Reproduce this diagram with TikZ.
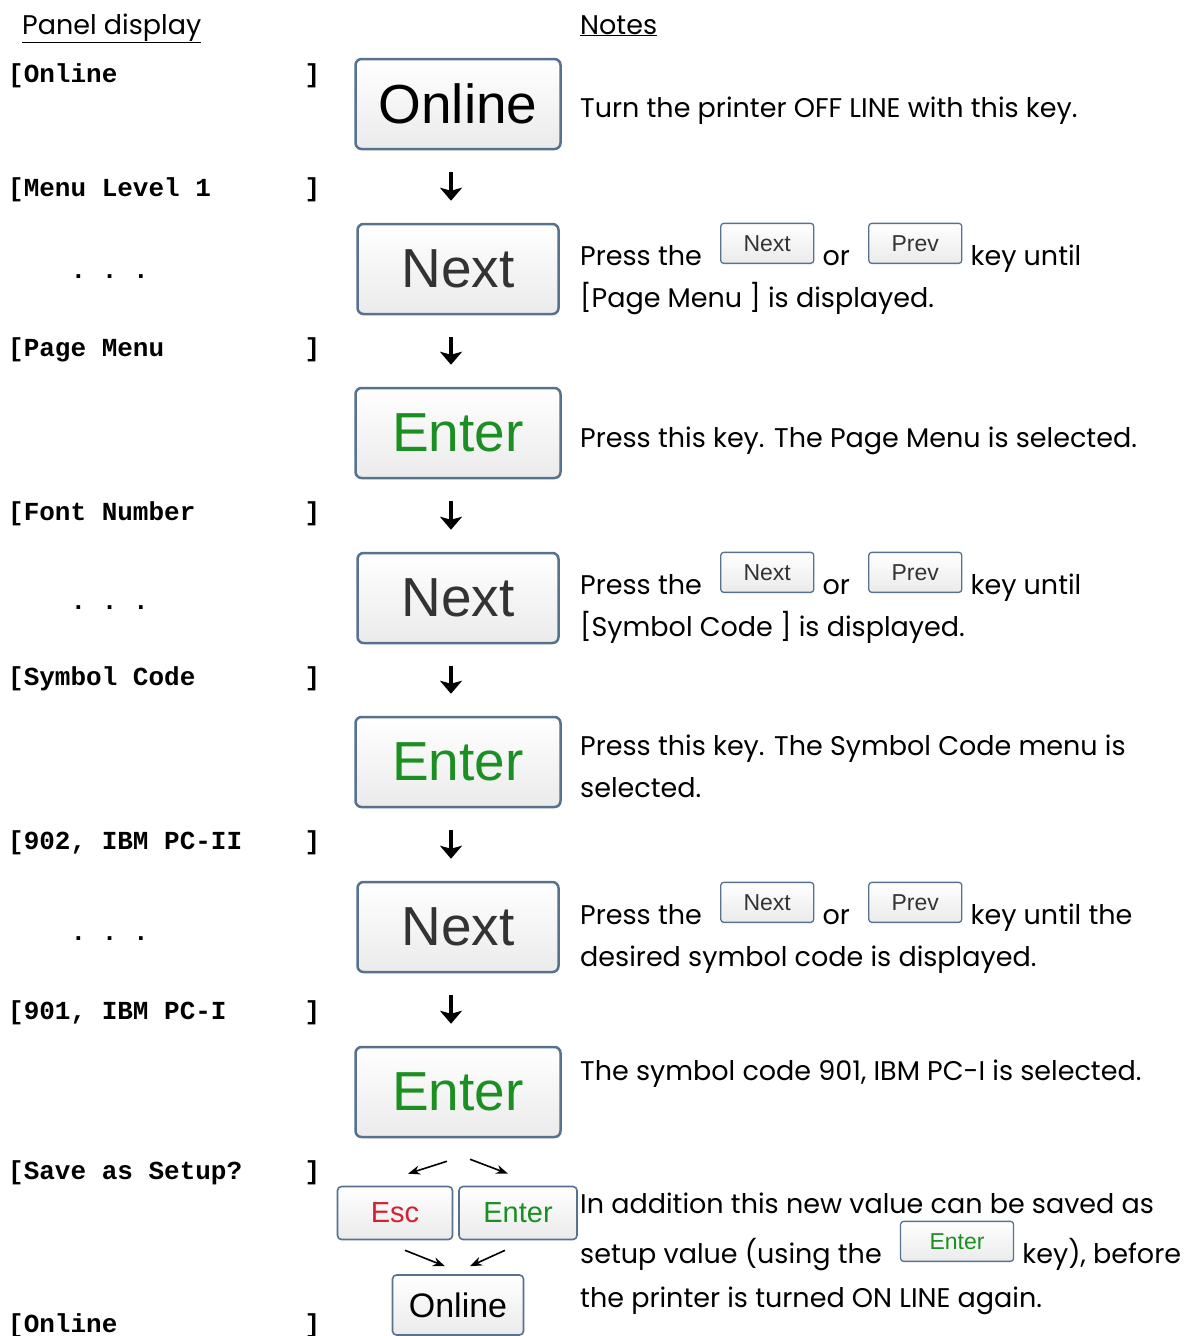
\documentclass[tikz,border=0pt]{standalone}
\usepackage{fontspec}
\setmainfont{Poppins}
\setsansfont{Liberation Sans}
\setmonofont{Liberation Mono}
\usepackage{xcolor}
\usepackage{tikz}
\usetikzlibrary{positioning,calc,arrows.meta}

\definecolor{keyframe}{HTML}{56728F}
\definecolor{keygreen}{HTML}{1C8F22}
\definecolor{keyred}{HTML}{D42030}
\definecolor{keygray}{HTML}{333333}

\begin{document}
\begin{tikzpicture}[x=1pt,y=-1pt,
  bigkey/.style={draw=keyframe,line width=2.5pt,rounded corners=6pt,top color=white,bottom color=gray!16,
    minimum width=205pt,minimum height=90pt,font=\sffamily\fontsize{55}{60}\selectfont},
  midkey/.style={draw=keyframe,line width=1.6pt,rounded corners=4pt,top color=white,bottom color=gray!16,
    minimum height=53pt,font=\sffamily\fontsize{29}{32}\selectfont},
  inkey/.style={draw=keyframe,line width=1.3pt,rounded corners=3pt,top color=white,bottom color=gray!16,
    minimum width=93pt,minimum height=40pt,font=\sffamily\fontsize{23}{26}\selectfont},
  panel/.style={anchor=base west,inner sep=0pt,font=\ttfamily\bfseries\fontsize{26}{28}\selectfont},
  note/.style={anchor=base west,inner sep=0pt,font=\fontsize{27}{32}\selectfont},
  downarr/.style={-{Stealth[length=13pt,width=22pt,inset=3pt]},line width=3.5pt},
  splitarr/.style={-{Stealth[length=12pt,width=9pt]},line width=1.6pt}]
  \useasboundingbox (0,0) rectangle (1184,1336);

  % headings
  \node[note] (hpanel) at (22,34) {\underline{Panel display}};
  \node[note] (hnotes) at (580,34) {\underline{Notes}};

  % panel display
  \node[panel] (p1) at (8,82) {[Online~~~~~~~~~~~~]};
  \node[panel] (p2) at (8,196) {[Menu~Level~1~~~~~~]};
  \node[panel] (d1) at (8,278) {~~~~.~.~.};
  \node[panel] (p3) at (8,356) {[Page~Menu~~~~~~~~~]};
  \node[panel] (p4) at (8,520) {[Font~Number~~~~~~~]};
  \node[panel] (d2) at (8,609) {~~~~.~.~.};
  \node[panel] (p5) at (8,685) {[Symbol~Code~~~~~~~]};
  \node[panel] (p6) at (8,849) {[902,~IBM~PC-II~~~~]};
  \node[panel] (d3) at (8,940) {~~~~.~.~.};
  \node[panel] (p7) at (8,1019) {[901,~IBM~PC-I~~~~~]};
  \node[panel] (p8) at (8,1179) {[Save~as~Setup?~~~~]};
  \node[panel] (p9) at (8,1332) {[Online~~~~~~~~~~~~]};

  % keys
  \node[bigkey,text=black] (onA) at (458,104) {Online};
  \node[bigkey,text=keygray,minimum width=201pt] (nxA) at (458,269) {Next};
  \node[bigkey,text=keygreen] (enA) at (458,433) {Enter};
  \node[bigkey,text=keygray,minimum width=201pt] (nxB) at (458,598) {Next};
  \node[bigkey,text=keygreen] (enB) at (458,762) {Enter};
  \node[bigkey,text=keygray,minimum width=201pt] (nxC) at (458,927) {Next};
  \node[bigkey,text=keygreen] (enC) at (458,1092) {Enter};
  \node[midkey,text=keyred,minimum width=115pt] (esc) at (395,1213) {Esc};
  \node[midkey,text=keygreen,minimum width=118pt] (enS) at (518,1213) {Enter};
  \node[midkey,text=black,minimum width=131pt,minimum height=60pt,
    font=\sffamily\fontsize{34}{36}\selectfont] (onB) at (458,1305) {Online};

  \foreach \a/\b in {onA/nxA,nxA/enA,enA/nxB,nxB/enB,enB/nxC,nxC/enC}
    \draw[downarr] ($(\a.south)+(-7,22)$) -- ($(\b.north)+(-7,-22)$);

  \draw[splitarr] ($(enC.south)+(-11,23)$) -- ($(esc.north)+(13,-12)$);
  \draw[splitarr] ($(enC.south)+(12,21)$) -- ($(enS.north)+(-10,-12)$);
  \draw[splitarr] ($(esc.south)+(10,10)$) -- ($(onB.north)+(-13,-8)$);
  \draw[splitarr] ($(enS.south)+(-13,10)$) -- ($(onB.north)+(12,-8)$);

  % notes
  \node[note] (n1) at (580,117) {Turn the printer OFF LINE with this key.};

  \foreach \r/\y/\tailtxt/\shown in {a/265/{key until}/{[Page Menu ] is displayed.},
      b/594/{key until}/{[Symbol Code ] is displayed.},
      c/924/{key until the}/{desired symbol code is displayed.}} {
    \node[note] (press\r) at (580,\y) {Press the};
    \node[inkey,text=keygray,anchor=south west] (knx\r) at ($(press\r.base east)+(18,-1)$) {Next};
    \node[note] (or\r) at ($(knx\r.south east)+(8,1)$) {or};
    \node[inkey,text=keygray,anchor=south west] (kpv\r) at ($(or\r.base east)+(18,-1)$) {Prev};
    \node[note] (until\r) at ($(kpv\r.south east)+(8,1)$) {\tailtxt};
    \node[note] (shown\r) at (580,\y+42) {\shown};
  }

  \node[note] (n2) at (580,447) {Press this key. The Page Menu is selected.};
  \node[note] (n3) at (580,755) {Press this key. The Symbol Code menu is};
  \node[note] (n3b) at (580,797) {selected.};
  \node[note] (n4) at (580,1080) {The symbol code 901, IBM PC-I is selected.};
  \node[note] (n5) at (580,1213) {In addition this new value can be saved as};
  \node[note] (n5b) at (580,1263) {setup value (using the};
  \node[inkey,text=keygreen,minimum width=113pt,anchor=south west] (ken) at ($(n5b.base east)+(18,-1)$) {Enter};
  \node[note] (n5c) at ($(ken.south east)+(8,1)$) {key), before};
  \node[note] (n5d) at (580,1307) {the printer is turned ON LINE again.};
\end{tikzpicture}
\end{document}
